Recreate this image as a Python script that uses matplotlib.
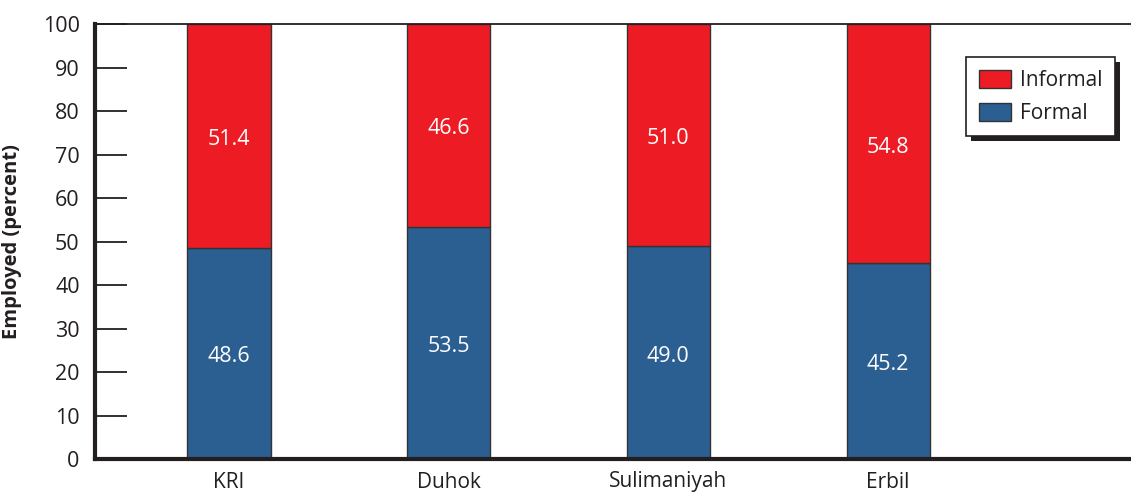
import matplotlib
matplotlib.use("Agg")
import matplotlib.pyplot as plt
from matplotlib.patches import Rectangle
from matplotlib.transforms import IdentityTransform
import numpy as np

# Employment by formality across regions (percent of employed)
regions = ["KRI", "Duhok", "Sulimaniyah", "Erbil"]
formal = [48.6, 53.5, 49.0, 45.2]
informal = [51.4, 46.6, 51.0, 54.8]
y_ticks = [0, 10, 20, 30, 40, 50, 60, 70, 80, 90, 100]

RED = "#ED1C24"
BLUE = "#2B5F91"
EDGE = "#333333"
TXT = "#231F20"

plt.rcParams["font.family"] = ["Open Sans", "DejaVu Sans"]

fig = plt.figure(figsize=(11.31, 4.93), dpi=100)
ax = fig.add_axes([95 / 1131, 34 / 493, 1036 / 1131, 434.5 / 493])

x = np.arange(len(regions))
width = 0.378
b1 = ax.bar(x, formal, width, color=BLUE, edgecolor=EDGE, linewidth=1.0, label="Formal", zorder=2)
b2 = ax.bar(x, informal, width, bottom=formal, color=RED, edgecolor=EDGE, linewidth=1.0,
            label="Informal", zorder=2)

for xi, f, inf in zip(x, formal, informal):
    ax.text(xi, f / 2 - 0.8, f"{f:.1f}", ha="center", va="center", color="white", fontsize=15.5)
    top = min(f + inf, 100)
    ax.text(xi, (f + top) / 2 - 0.8, f"{inf:.1f}", ha="center", va="center", color="white",
            fontsize=15.5)

ax.set_xlim(-0.61, 4.106)
ax.set_ylim(0, 100)
ax.set_yticks(y_ticks)
ax.set_xticks(x)
ax.set_xticklabels(regions)
ax.tick_params(axis="y", direction="in", length=23, width=1.3, color=TXT, labelsize=15.5,
               labelcolor=TXT, pad=11)
ax.tick_params(axis="x", length=0, labelsize=15, labelcolor=TXT, pad=9)
ax.set_ylabel("Employed (percent)", fontsize=14.5, fontweight="bold", color=TXT)
ax.yaxis.set_label_coords(-(95 - 22) / 1036, 0.5)

ax.spines["right"].set_visible(False)
ax.spines["left"].set_linewidth(3)
ax.spines["bottom"].set_linewidth(3)
ax.spines["top"].set_linewidth(1.3)
for s in ax.spines.values():
    s.set_color(TXT)

handles = [b2, b1]
leg = ax.legend(handles, ["Informal", "Formal"], loc="upper right", bbox_to_anchor=(0.985, 0.925),
                fontsize=15, frameon=True, fancybox=False, edgecolor=TXT, framealpha=1,
                handlelength=1.55, handleheight=1.0, labelspacing=0.55, handletextpad=0.45,
                borderpad=0.6, borderaxespad=0)
leg.get_frame().set_linewidth(1.2)
leg.set_zorder(10)
for t in leg.get_texts():
    t.set_color(TXT)

# Drop shadow behind the legend box
fig.canvas.draw()
bb = leg.get_window_extent()
shadow = Rectangle((bb.x0 + 5, bb.y0 - 5), bb.width, bb.height,
                   facecolor=TXT, edgecolor="none", zorder=9, clip_on=False)
shadow.set_transform(IdentityTransform())
ax.add_artist(shadow)

fig.savefig("out.png", dpi=100)
